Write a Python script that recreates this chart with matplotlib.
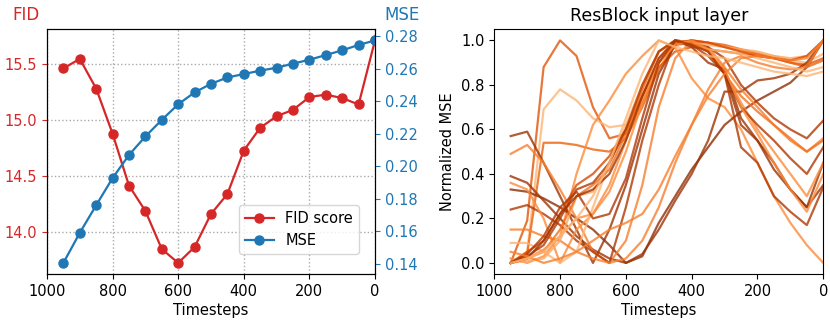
import numpy as np
import matplotlib
matplotlib.use("Agg")
import matplotlib.pyplot as plt

#######################################################
TIMESTEPS = [950, 900, 850, 800, 750, 700, 650, 600, 550, 500,
             450, 400, 350, 300, 250, 200, 150, 100, 50, 0]

FID = [15.46, 15.545, 15.28, 14.877, 14.413, 14.187, 13.847, 13.723, 13.865, 14.16,
       14.338, 14.726, 14.93, 15.033, 15.09, 15.204, 15.226, 15.195, 15.138, 15.71]

MSE = [0.1406, 0.1591, 0.1761, 0.1928, 0.2070, 0.2184, 0.2286, 0.2382, 0.2455, 0.2508,
       0.2547, 0.2568, 0.2589, 0.2607, 0.2632, 0.2656, 0.2685, 0.2714, 0.2747, 0.2775]

# normalized MSE curves, one per layer sample, with the colour shade used
NORM_MSE = [
    [0.00, 0.19, 0.88, 1.00, 0.93, 0.70, 0.56, 0.58, 0.72, 0.88, 0.95, 0.97, 0.96, 0.95, 0.94, 0.93, 0.92, 0.90, 0.89, 0.92],
    [0.00, 0.05, 0.69, 0.78, 0.73, 0.65, 0.61, 0.62, 0.74, 0.90, 0.97, 1.00, 0.99, 0.97, 0.95, 0.94, 0.93, 0.91, 0.90, 0.94],
    [0.00, 0.04, 0.54, 0.54, 0.53, 0.51, 0.50, 0.56, 0.70, 0.87, 0.98, 1.00, 0.99, 0.98, 0.96, 0.94, 0.92, 0.90, 0.88, 0.91],
    [0.02, 0.00, 0.03, 0.12, 0.40, 0.62, 0.73, 0.85, 0.93, 1.00, 0.97, 0.83, 0.74, 0.70, 0.60, 0.45, 0.30, 0.18, 0.08, 0.00],
    [0.57, 0.59, 0.45, 0.30, 0.15, 0.00, 0.15, 0.35, 0.60, 0.85, 0.98, 1.00, 0.95, 0.85, 0.62, 0.55, 0.42, 0.33, 0.25, 0.45],
    [0.33, 0.32, 0.29, 0.25, 0.20, 0.15, 0.08, 0.00, 0.03, 0.18, 0.30, 0.42, 0.52, 0.62, 0.68, 0.73, 0.77, 0.81, 0.88, 1.00],
    [0.39, 0.36, 0.28, 0.20, 0.12, 0.06, 0.02, 0.00, 0.04, 0.15, 0.28, 0.40, 0.55, 0.77, 0.77, 0.82, 0.83, 0.85, 0.90, 1.00],
    [0.49, 0.53, 0.45, 0.33, 0.20, 0.05, 0.00, 0.10, 0.35, 0.70, 0.92, 1.00, 0.97, 0.88, 0.78, 0.70, 0.62, 0.55, 0.50, 0.56],
    [0.24, 0.26, 0.22, 0.17, 0.10, 0.05, 0.00, 0.25, 0.55, 0.80, 1.00, 0.99, 0.97, 0.92, 0.80, 0.72, 0.65, 0.60, 0.56, 0.64],
    [0.36, 0.33, 0.20, 0.00, 0.15, 0.22, 0.35, 0.55, 0.75, 0.92, 1.00, 0.99, 0.95, 0.86, 0.72, 0.60, 0.50, 0.40, 0.30, 0.45],
    [0.15, 0.15, 0.12, 0.10, 0.05, 0.02, 0.00, 0.02, 0.10, 0.25, 0.45, 0.62, 0.78, 0.90, 0.93, 0.90, 0.88, 0.87, 0.88, 1.00],
    [0.09, 0.09, 0.05, 0.00, 0.05, 0.25, 0.45, 0.62, 0.80, 0.95, 1.00, 0.98, 0.96, 0.95, 0.94, 0.92, 0.90, 0.88, 0.86, 0.88],
    [0.00, 0.01, 0.02, 0.10, 0.30, 0.32, 0.45, 0.60, 0.78, 0.95, 1.00, 0.99, 0.98, 0.97, 0.96, 0.95, 0.93, 0.92, 0.93, 1.00],
    [0.00, 0.05, 0.10, 0.22, 0.35, 0.40, 0.48, 0.60, 0.75, 0.90, 0.99, 1.00, 0.99, 0.97, 0.95, 0.93, 0.92, 0.91, 0.93, 1.00],
    [0.00, 0.02, 0.05, 0.15, 0.30, 0.35, 0.42, 0.58, 0.78, 0.95, 1.00, 0.99, 0.95, 0.85, 0.75, 0.68, 0.62, 0.56, 0.50, 0.55],
    [0.00, 0.03, 0.08, 0.20, 0.33, 0.36, 0.45, 0.60, 0.80, 0.95, 1.00, 0.98, 0.93, 0.85, 0.70, 0.62, 0.55, 0.47, 0.40, 0.52],
    [0.00, 0.02, 0.10, 0.22, 0.30, 0.33, 0.40, 0.55, 0.75, 0.92, 1.00, 0.97, 0.90, 0.87, 0.65, 0.55, 0.45, 0.33, 0.25, 0.35],
    [0.00, 0.02, 0.06, 0.12, 0.20, 0.22, 0.32, 0.50, 0.72, 0.90, 0.98, 1.00, 0.96, 0.87, 0.70, 0.58, 0.45, 0.33, 0.23, 0.40],
    [0.00, 0.04, 0.12, 0.25, 0.32, 0.20, 0.22, 0.38, 0.65, 0.90, 1.00, 0.98, 0.95, 0.85, 0.52, 0.45, 0.30, 0.23, 0.17, 0.34],
    [0.05, 0.03, 0.00, 0.02, 0.05, 0.10, 0.15, 0.18, 0.22, 0.33, 0.48, 0.62, 0.75, 0.85, 0.92, 0.93, 0.92, 0.91, 0.92, 1.00],
    [0.00, 0.02, 0.05, 0.12, 0.20, 0.30, 0.45, 0.65, 0.85, 1.00, 0.97, 0.95, 0.93, 0.92, 0.90, 0.88, 0.86, 0.85, 0.84, 0.86],
]
SHADES = [0.7, 0.35, 0.65, 0.5, 0.9, 0.95, 0.9, 0.55, 0.85, 0.5, 0.55,
          0.35, 0.4, 0.75, 0.6, 0.85, 0.9, 0.5, 0.85, 0.55, 0.35]
#########################################################

RED = "#d62728"
BLUE = "#1f77b4"
plt.rcParams['font.size'] = 10.5

fig = plt.figure(figsize=(8.3, 3.29), dpi=100)

# left: FID vs MSE
ax1 = fig.add_axes([0.0566, 0.167, 0.3952, 0.744])
l1, = ax1.plot(TIMESTEPS, FID, '-o', color=RED, lw=1.6, ms=6.5, label='FID score')
ax1.set_xlim(1000, 0)
ax1.set_xticks([1000, 800, 600, 400, 200, 0])
ax1.set_yticks([14.0, 14.5, 15.0, 15.5])
ax1.tick_params(axis='y', colors=RED)
ax1.set_xlabel('Timesteps', labelpad=3)
ax1.grid(True, linestyle=':', color='#aaaaaa', lw=1)
ax1.text(-0.104, 1.02, 'FID', color=RED, fontsize=12, transform=ax1.transAxes,
         ha='left', va='bottom')

ax2 = ax1.twinx()
l2, = ax2.plot(TIMESTEPS, MSE, '-o', color=BLUE, lw=1.6, ms=6.5, label='MSE')
ax2.set_yticks([0.14, 0.16, 0.18, 0.20, 0.22, 0.24, 0.26, 0.28])
ax2.tick_params(axis='y', colors=BLUE)
ax2.text(1.03, 1.02, 'MSE', color=BLUE, fontsize=12, transform=ax2.transAxes,
         ha='left', va='bottom')
ax2.legend(handles=[l1, l2], loc='lower right', bbox_to_anchor=(0.951, 0.082),
           borderaxespad=0)

# right: normalized MSE per layer
ax3 = fig.add_axes([0.5955, 0.167, 0.3964, 0.744])
cmap = plt.cm.Oranges
for vals, s in zip(NORM_MSE, SHADES):
    ax3.plot(TIMESTEPS, vals, color=cmap(s), lw=1.6, alpha=0.8)
ax3.set_xlim(1000, 0)
ax3.set_xticks([1000, 800, 600, 400, 200, 0])
ax3.set_yticks([0.0, 0.2, 0.4, 0.6, 0.8, 1.0])
ax3.set_xlabel('Timesteps', labelpad=3)
ax3.set_ylabel('Normalized MSE')
ax3.set_title('ResBlock input layer', fontsize=12.5)

fig.savefig("out.png", dpi=100)
